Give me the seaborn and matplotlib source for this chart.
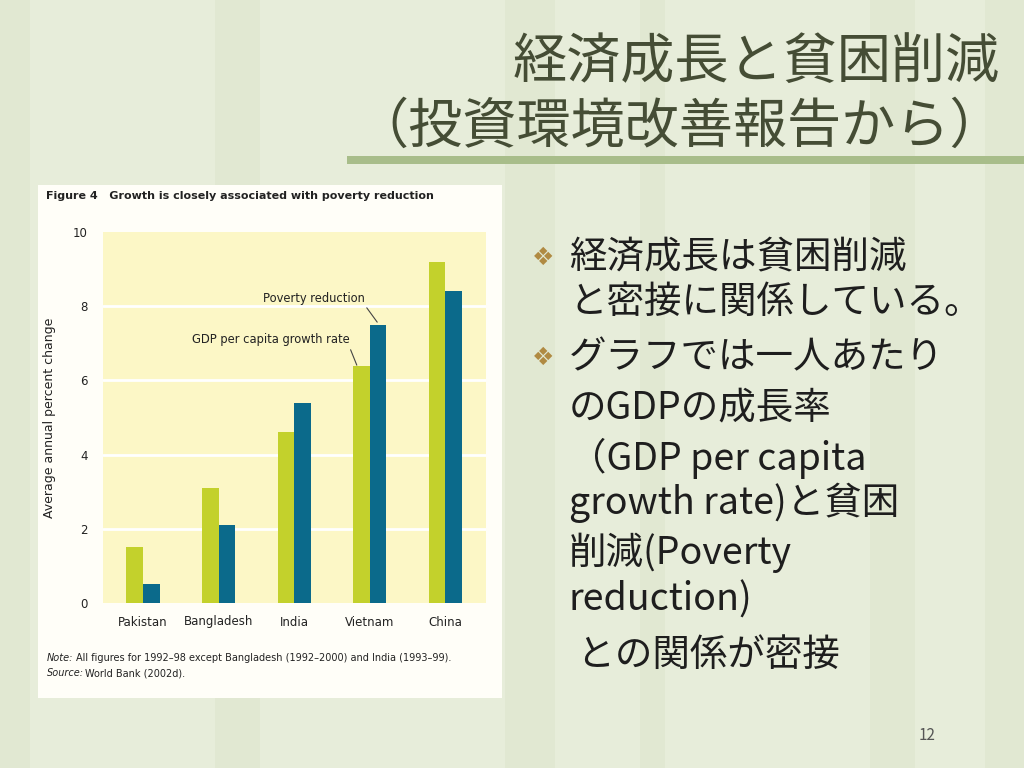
import pandas as pd
import matplotlib.pyplot as plt
import matplotlib.patches as mpatches
import seaborn as sns

countries = ['Pakistan', 'Bangladesh', 'India', 'Vietnam', 'China']
gdp_growth = [1.5, 3.1, 4.6, 6.4, 9.2]
poverty_reduction = [0.5, 2.1, 5.4, 7.5, 8.4]
y_ticks = [0, 2, 4, 6, 8, 10]

title_lines = ['経済成長と貧困削減', '（投資環境改善報告から）']
bullet_lines = [
    ('❖', '経済成長は貧困削減'),
    ('', 'と密接に関係している。'),
    ('❖', 'グラフでは一人あたり'),
    ('', 'のGDPの成長率'),
    ('', '（GDP per capita'),
    ('', 'growth rate)と貧困'),
    ('', '削減(Poverty'),
    ('', 'reduction)'),
    ('', ' との関係が密接'),
]

df = pd.DataFrame({
    'country': countries * 2,
    'value': gdp_growth + poverty_reduction,
    'series': ['GDP per capita growth rate'] * 5 + ['Poverty reduction'] * 5,
})

sns.set_theme(style='white')
plt.rcParams['font.family'] = ['Noto Sans CJK JP', 'DejaVu Sans']
narrow = ['Liberation Sans Narrow', 'DejaVu Sans']

W, H = 1024, 768
fig = plt.figure(figsize=(W / 100, H / 100), dpi=100)
fig.patch.set_facecolor('#e7edda')


def px(x, y):
    return x / W, 1 - y / H


# faint bamboo-like stripes in the slide background
for x0, w in [(0, 30), (215, 45), (505, 50), (640, 25), (870, 45), (985, 39)]:
    fig.patches.append(mpatches.Rectangle(px(x0, 768), w / W, 1, transform=fig.transFigure,
                                          facecolor='#e1e8d2', edgecolor='none', zorder=0))

# slide title and rule
fig.text(*px(1000, 62), title_lines[0], ha='right', va='center', fontsize=39, color='#454d35')
fig.text(*px(1004, 127), title_lines[1], ha='right', va='center', fontsize=39, color='#454d35')
fig.patches.append(mpatches.Rectangle(px(347, 164), 677 / W, 8 / H, transform=fig.transFigure,
                                      facecolor='#a8bd8a', edgecolor='none'))

# white card holding the figure
fig.patches.append(mpatches.Rectangle(px(38, 698), 464 / W, 513 / H, transform=fig.transFigure,
                                      facecolor='#fffef8', edgecolor='none', zorder=1))
fig.text(*px(46, 196), 'Figure 4   Growth is closely associated with poverty reduction',
         ha='left', va='center', fontsize=8, fontweight='bold', family=narrow, color='#222222')

ax = fig.add_axes([103 / W, 1 - 603 / H, 383 / W, 371 / H])
ax.set_zorder(3)
ax.set_facecolor('#fcf7c6')
sns.barplot(data=df, x='country', y='value', hue='series', order=countries,
            palette=['#c3d12c', '#0b6a8b'], width=0.44, gap=0, saturation=1,
            linewidth=0, legend=False, ax=ax, zorder=3)
ax.set_xlim(-0.53, 4.54)
ax.set_ylim(0, 10)
ax.set_yticks(y_ticks)
ax.set_yticklabels([str(t) for t in y_ticks], family=narrow, fontsize=8.5, color='#222222')
ax.set_xticks(range(len(countries)))
ax.set_xticklabels(countries, family=narrow, fontsize=8.5, color='#222222')
ax.tick_params(axis='both', length=0)
ax.tick_params(axis='y', pad=11)
ax.tick_params(axis='x', pad=9)
for t in y_ticks[1:-1]:
    ax.axhline(t, color='white', lw=2, zorder=2)
for s in ax.spines.values():
    s.set_visible(False)
ax.set_xlabel('')
ax.set_ylabel('Average annual percent change', family=narrow, fontsize=9, color='#222222', labelpad=12)

ax.annotate('Poverty reduction', xy=(3.10, 7.57), xytext=(2.93, 8.22), ha='right', va='center',
            fontsize=8.3, family=narrow, color='#222222',
            arrowprops=dict(arrowstyle='-', color='#444444', lw=0.8, relpos=(1, 0),
                            shrinkA=0, shrinkB=0))
ax.annotate('GDP per capita growth rate', xy=(2.83, 6.41), xytext=(2.73, 7.09), ha='right', va='center',
            fontsize=8.3, family=narrow, color='#222222',
            arrowprops=dict(arrowstyle='-', color='#444444', lw=0.8, relpos=(1, 0),
                            shrinkA=0, shrinkB=0))

fig.text(*px(47, 658), 'Note:', ha='left', va='center', fontsize=7, style='italic',
         family=narrow, color='#222222', zorder=3)
fig.text(*px(76, 658), 'All figures for 1992–98 except Bangladesh (1992–2000) and India (1993–99).',
         ha='left', va='center', fontsize=7, family=narrow, color='#222222', zorder=3)
fig.text(*px(47, 673), 'Source:', ha='left', va='center', fontsize=7, style='italic',
         family=narrow, color='#222222', zorder=3)
fig.text(*px(85, 673), 'World Bank (2002d).',
         ha='left', va='center', fontsize=7, family=narrow, color='#222222', zorder=3)

# bullet text on the right
ys = [258, 302, 358, 408, 458, 503, 553, 600, 655]
for (mark, line), y in zip(bullet_lines, ys):
    if mark:
        fig.text(*px(532, y), mark, ha='left', va='center', fontsize=18, family='DejaVu Sans',
                 color='#b08a42')
    fig.text(*px(569, y), line, ha='left', va='center', fontsize=27, color='#1e1e1e')

fig.text(*px(936, 735), '12', ha='right', va='center', fontsize=11, color='#555555')

fig.savefig('out.png', dpi=100, facecolor=fig.get_facecolor())
